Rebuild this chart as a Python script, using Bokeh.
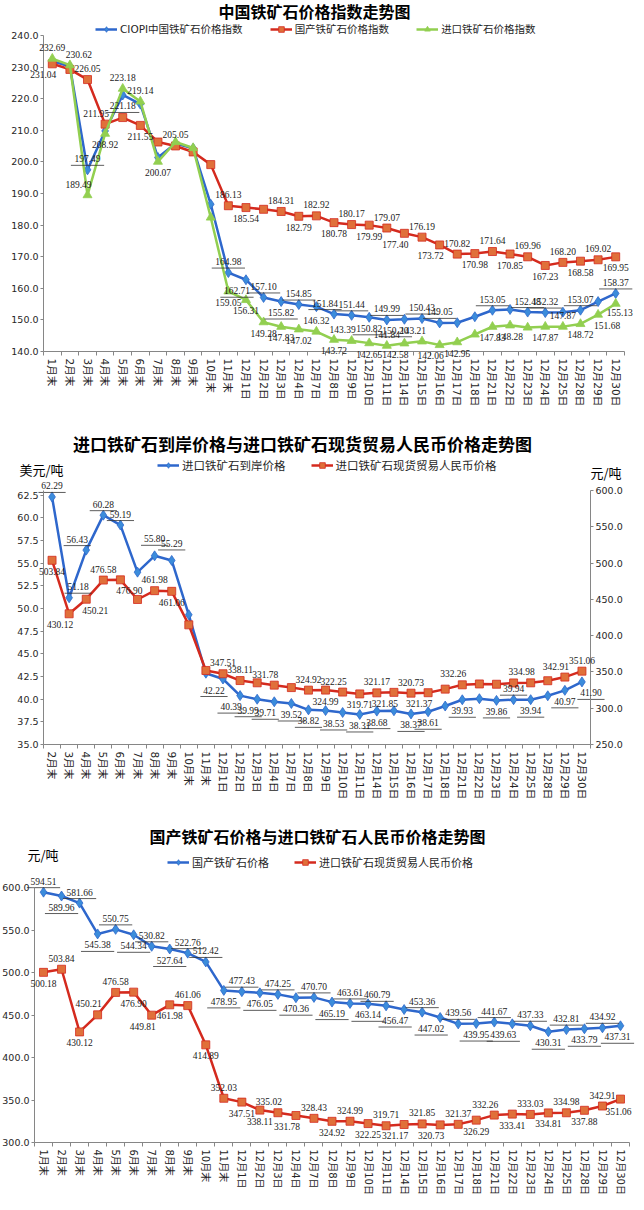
from bokeh.plotting import figure
from bokeh.models import (ColumnDataSource, FixedTicker, LinearAxis, Range1d, Label, LabelSet,
                          Legend, LegendItem, NumeralTickFormatter)
from bokeh.layouts import column
from bokeh.embed import file_html
from bokeh.resources import INLINE

# ---------------- data ----------------
MONTHS = ["1月末", "2月末", "3月末", "4月末", "5月末", "6月末", "7月末", "8月末", "9月末", "10月末", "11月末"]
DEC_DAYS = ["12月1日", "12月2日", "12月3日", "12月4日", "12月7日", "12月8日", "12月9日", "12月10日",
            "12月11日", "12月14日", "12月15日", "12月16日", "12月17日", "12月18日", "12月21日", "12月22日",
            "12月23日", "12月24日", "12月25日", "12月28日", "12月29日", "12月30日"]
CATS_1 = MONTHS + DEC_DAYS
CATS_2 = MONTHS[1:] + DEC_DAYS
CATS_3 = MONTHS + DEC_DAYS

# chart 1: indices
CIOPI = [231.9, 230.2, 197.49, 209.8, 221.18, 218.3, 201.4, 205.8, 204.3, 186.6, 164.98,
         162.71, 157.10, 155.82, 154.85, 154.2, 151.84, 151.44, 150.82, 149.99, 150.20, 150.43,
         149.05, 149.1, 151.0, 153.05, 153.3, 152.48, 152.32, 152.45, 153.07, 155.8, 158.37]
DOMESTIC_IDX = [231.04, 229.27, 226.05, 211.95, 214.03, 211.55, 206.29, 205.05, 203.15, 199.14, 186.13,
                185.54, 185.00, 184.31, 182.79, 182.92, 180.78, 180.17, 179.99, 179.07, 177.40, 176.19,
                173.72, 170.82, 170.98, 171.64, 170.85, 169.96, 167.23, 168.20, 168.58, 169.02, 169.95]
IMPORT_IDX = [232.69, 230.62, 189.49, 208.92, 223.18, 219.14, 200.07, 206.3, 204.4, 182.4, 159.05,
              156.31, 149.28, 147.83, 147.02, 146.32, 143.72, 143.39, 142.65, 141.84, 142.58, 143.21,
              142.06, 142.95, 145.4, 147.83, 148.28, 147.6, 147.87, 147.87, 148.72, 151.68, 155.13]

# chart 2: import CIF price (USD/t), from 2月末
IMPORT_USD = [62.29, 51.18, 56.43, 60.28, 59.19, 54.0, 55.80, 55.29, 49.3, 42.86,
              42.22, 40.39, 39.99, 39.71, 39.52, 38.82, 38.74, 38.53, 38.31, 38.68, 38.72,
              38.37, 38.61, 39.24, 39.93, 40.05, 39.86, 39.94, 39.94, 40.37, 40.97, 41.90]

# chart 3 (and chart 2 from 2月末): CNY prices
DOMESTIC_CNY = [594.51, 589.96, 581.66, 545.38, 550.75, 544.34, 530.82, 527.64, 522.76, 512.42, 478.95,
                477.43, 476.05, 474.25, 470.36, 470.70, 465.19, 463.61, 463.14, 460.79, 456.47, 453.36,
                447.02, 439.56, 439.95, 441.67, 439.63, 437.33, 430.31, 432.81, 433.79, 434.92, 437.31]
IMPORT_CNY = [500.18, 503.84, 430.12, 450.21, 476.58, 476.90, 449.81, 461.98, 461.06, 414.89, 352.03,
              347.51, 338.11, 335.02, 331.78, 328.43, 324.92, 324.99, 322.25, 319.71, 321.17, 321.85,
              320.73, 321.37, 326.29, 332.26, 333.41, 333.03, 334.81, 334.98, 337.88, 342.91, 351.06]
IMPORT_CNY_2 = IMPORT_CNY[1:]

TITLE_1 = "中国铁矿石价格指数走势图"
TITLE_2 = "进口铁矿石到岸价格与进口铁矿石现货贸易人民币价格走势图"
TITLE_3 = "国产铁矿石价格与进口铁矿石人民币价格走势图"
NAME_CIOPI = "CIOPI中国铁矿石价格指数"
NAME_DOM_IDX = "国产铁矿石价格指数"
NAME_IMP_IDX = "进口铁矿石价格指数"
NAME_IMP_USD = "进口铁矿石到岸价格"
NAME_IMP_CNY = "进口铁矿石现货贸易人民币价格"
NAME_DOM_CNY = "国产铁矿石价格"
UNIT_USD = "美元/吨"
UNIT_CNY = "元/吨"

# ---------------- label placement (style) ----------------
POS_CIOPI = {2: 'a', 4: 'b', 10: 'a', 11: 'bl', 12: 'a', 13: 'b', 14: 'a', 16: 'al', 17: 'a', 18: 'b',
             19: 'a', 20: 'bl', 21: 'a', 22: 'a', 25: 'a', 27: 'a', 28: 'a', 30: 'a', 32: 'a'}
POS_DOM_IDX = {0: 'bl', 2: 'a', 3: 'al', 5: 'b', 7: 'a', 10: 'a', 11: 'b', 13: 'a', 14: 'b', 15: 'a',
               16: 'b', 17: 'a', 18: 'b', 19: 'a', 20: 'bl', 21: 'a', 22: 'bl', 23: 'a', 24: 'b', 25: 'a',
               26: 'b', 27: 'a', 28: 'b', 29: 'a', 30: 'b', 31: 'a', 32: 'b'}
POS_IMP_IDX = {0: 'a', 1: 'ar', 2: 'al', 3: 'b', 4: 'a', 5: 'a', 6: 'b', 10: 'b', 11: 'b', 12: 'b',
               13: 'b', 14: 'b', 15: 'a', 16: 'b', 17: 'al', 18: 'b', 19: 'a', 20: 'bl', 21: 'al',
               22: 'bl', 23: 'b', 25: 'b', 26: 'b', 28: 'b', 29: 'a', 30: 'b', 31: 'br', 32: 'br2'}
POS_IMP_USD = {0: 'a', 1: 'ar', 2: 'al', 3: 'a', 4: 'a', 6: 'aa', 7: 'aa', 10: 'bl', 11: 'bl', 12: 'bl',
               13: 'bl', 14: 'b', 15: 'b', 17: 'bl', 18: 'b', 19: 'b', 21: 'b', 22: 'b', 24: 'b',
               26: 'b', 27: 'a', 28: 'b', 30: 'b', 31: 'br'}
POS_IMP_CNY_2 = {0: 'b', 1: 'bl', 2: 'br', 3: 'a', 4: 'br', 6: 'a', 7: 'b', 10: 'a', 11: 'a', 13: 'al',
                 15: 'a', 16: 'b', 17: 'al', 18: 'b', 19: 'a', 20: 'bl', 21: 'a', 22: 'bl', 24: 'al',
                 28: 'al', 30: 'al', 31: 'a'}
POS_DOM_CNY = {0: 'a', 1: 'b', 2: 'a', 3: 'b', 4: 'a', 5: 'b', 6: 'a', 7: 'b', 8: 'a', 9: 'a', 10: 'b',
               11: 'a', 12: 'b', 13: 'a', 14: 'b', 15: 'a', 16: 'b', 17: 'a', 18: 'b', 19: 'al', 20: 'bl',
               21: 'a', 22: 'bl', 23: 'a', 24: 'b', 25: 'a', 26: 'bl', 27: 'a', 28: 'b', 29: 'a', 30: 'b',
               31: 'a', 32: 'bs'}
POS_IMP_CNY = {0: 'b', 1: 'a', 2: 'b', 3: 'al', 4: 'a', 5: 'b', 6: 'bl', 7: 'b', 8: 'a', 9: 'b', 10: 'a',
               11: 'b', 12: 'b', 13: 'al', 14: 'bl', 15: 'a', 16: 'b', 17: 'a', 18: 'b', 19: 'a', 20: 'bl',
               21: 'a', 22: 'bl', 23: 'a', 24: 'b', 25: 'al', 26: 'b', 27: 'a', 28: 'b', 29: 'a', 30: 'b',
               31: 'a', 32: 'bs2'}

# offsets in px (x right, y up)
OFF = {"a": (0, 11), "aa": (0, 17), "b": (0, -11), "al": (-9, 11), "ar": (9, 11), "bl": (-9, -11),
       "br": (9, -11), "l": (-22, 0), "r": (20, 0), "br2": (4, -9), "bs": (-3, -11), "bs2": (-2, -12)}

CJK = "Noto Sans CJK SC"
NUM = "DejaVu Sans"
MIX = "DejaVu Sans, Noto Sans CJK SC"
AXIS_C = "#868686"
TXT_C = "#262626"
BLUE_L, BLUE_F = "#2E67CC", "#3B8CDB"
RED_L, RED_F = "#D42A1E", "#E0703A"
GREEN = "#92CF50"
LBL_FS = 9.5
PAGE_L, PAGE_R = 8, 644


class Geo:
    pass


def style_y(ya, yticks, loc, bounds):
    ya.ticker = FixedTicker(ticks=yticks)
    ya.formatter = NumeralTickFormatter(format="0.0")
    ya.fixed_location = loc
    ya.bounds = bounds
    ya.major_tick_out = 3
    ya.major_tick_in = 0
    ya.minor_tick_out = 0
    ya.minor_tick_in = 0
    ya.axis_line_color = AXIS_C
    ya.major_tick_line_color = AXIS_C
    ya.major_label_standoff = 2
    ya.major_label_text_font = NUM
    ya.major_label_text_font_size = "9.5px"
    ya.major_label_text_color = TXT_C


def make_fig(cats, ymin, ymax, ybound_top, yticks, L, R, T, B, Ftop, Fbot, xstand=3, xfs="10.5px"):
    """L,R,T,B: page pixel edges of the plotting area; Ftop,Fbot: page edges of the figure."""
    n = len(cats)
    g = Geo()
    g.n, g.Fbot = n, Fbot
    g.ppx = (R - L) / n
    g.ppy = (B - T) / (ymax - ymin)
    x0 = -0.5 - (L - PAGE_L) / g.ppx
    x1 = n - 0.5 + (PAGE_R - R) / g.ppx
    y1 = ymax + (T - Ftop) / g.ppy
    y0 = ymin - (Fbot - B) / g.ppy
    p = figure(width=PAGE_R - PAGE_L, height=Fbot - Ftop, min_border=0,
               x_range=Range1d(x0, x1), y_range=Range1d(y0, y1),
               output_backend="svg", toolbar_location=None, title=None)
    p.xgrid.visible = False
    p.ygrid.visible = False
    p.outline_line_color = None
    xa = p.xaxis[0]
    xa.ticker = FixedTicker(ticks=list(range(n)), minor_ticks=[i - 0.5 for i in range(n + 1)])
    xa.major_label_overrides = {i: c for i, c in enumerate(cats)}
    xa.major_label_orientation = "vertical"
    xa.fixed_location = ymin
    xa.bounds = (-0.5, n - 0.5)
    xa.major_tick_out = 0
    xa.major_tick_in = 0
    xa.minor_tick_out = 4
    xa.minor_tick_in = 0
    xa.minor_tick_line_color = AXIS_C
    xa.axis_line_color = AXIS_C
    xa.major_label_standoff = xstand
    xa.major_label_text_font = MIX
    xa.major_label_text_font_size = xfs
    xa.major_label_text_color = TXT_C
    style_y(p.yaxis[0], yticks, -0.5, (ymin, ybound_top))
    return p, g


def series(p, vals, lc, fc, marker, size, range_name="default"):
    xs = list(range(len(vals)))
    src = ColumnDataSource(dict(x=xs, y=vals))
    r1 = p.line("x", "y", source=src, line_color=lc, line_width=2.5, y_range_name=range_name)
    r2 = p.scatter("x", "y", source=src, marker=marker, size=size, fill_color=fc, line_color=lc,
                   line_width=0.8, y_range_name=range_name)
    return [r1, r2]


def labels(p, g, vals, pos, ppy, underline=False, range_name="default"):
    xs, ys, ts, xo, yo = [], [], [], [], []
    ux0, ux1, uy = [], [], []
    for i, code in pos.items():
        dx, dy = OFF[code]
        t = "%.2f" % vals[i]
        xs.append(i)
        ys.append(vals[i])
        ts.append(t)
        xo.append(dx)
        yo.append(dy)
        if underline:
            w = (len(t) - 1) * 0.636 * LBL_FS + 0.318 * LBL_FS
            ux0.append(i + (dx - w / 2) / g.ppx)
            ux1.append(i + (dx + w / 2) / g.ppx)
            uy.append(vals[i] + (dy - 6.5) / ppy)
    src = ColumnDataSource(dict(x=xs, y=ys, t=ts, xo=xo, yo=yo))
    ls = LabelSet(x="x", y="y", text="t", x_offset="xo", y_offset="yo", source=src,
                  text_align="center", text_baseline="middle", text_font=NUM,
                  text_font_size="%gpx" % LBL_FS, text_color="#1a1a1a", y_range_name=range_name)
    p.add_layout(ls)
    if underline:
        usrc = ColumnDataSource(dict(x0=ux0, x1=ux1, y=uy))
        p.segment(x0="x0", y0="y", x1="x1", y1="y", source=usrc, line_color="#333333",
                  line_width=0.8, y_range_name=range_name)


def text_label(p, g, px, py, text, size, bold=False, align="center"):
    p.add_layout(Label(x=px - PAGE_L, y=g.Fbot - py, x_units="screen", y_units="screen", text=text,
                       text_align=align, text_baseline="middle", text_font=CJK, text_font_size=size,
                       text_font_style="bold" if bold else "normal", text_color="#000000"))


def legend(p, g, items, px, py_center, fs, spacing):
    lg = Legend(items=[LegendItem(label=lab, renderers=rs) for lab, rs in items],
                location=(px - PAGE_L, g.Fbot - py_center - 7),
                orientation="horizontal", spacing=spacing, glyph_width=22, glyph_height=14,
                label_standoff=3, padding=0, margin=0, border_line_color=None,
                background_fill_alpha=0, label_text_font=MIX, label_text_font_size=fs,
                label_text_color=TXT_C, label_height=14)
    p.add_layout(lg)


# ---------------- chart 1 ----------------
p1, g1 = make_fig(CATS_1, 140, 240, 240, list(range(140, 241, 10)), 51, 632, 43, 359, 8, 438)
rb = series(p1, CIOPI, BLUE_L, BLUE_F, "diamond", 10)
rr = series(p1, DOMESTIC_IDX, RED_L, RED_F, "square", 8)
rg = series(p1, IMPORT_IDX, GREEN, GREEN, "triangle", 9)
labels(p1, g1, CIOPI, POS_CIOPI, g1.ppy, underline=True)
labels(p1, g1, DOMESTIC_IDX, POS_DOM_IDX, g1.ppy)
labels(p1, g1, IMPORT_IDX, POS_IMP_IDX, g1.ppy)
text_label(p1, g1, 322, 18, TITLE_1, "16px", bold=True)
legend(p1, g1, [(NAME_CIOPI, rb), (NAME_DOM_IDX, rr), (NAME_IMP_IDX, rg)], 103, 37, "10.5px", 27)

# ---------------- chart 2 ----------------
L2, R2, T2, B2, F2t, F2b = 51, 598, 498, 752, 438, 823
p2, g2 = make_fig(CATS_2, 35, 63, 63, [35 + 2.5 * k for k in range(12)], L2, R2, T2, B2, F2t, F2b)
ppy_r = (B2 - T2) / (600 - 250)
p2.extra_y_ranges = {"right": Range1d(250 - (F2b - B2) / ppy_r, 600 + (T2 - F2t) / ppy_r)}
ax_r = LinearAxis(y_range_name="right")
style_y(ax_r, list(range(250, 601, 50)), g2.n - 0.5, (250, 600))
p2.add_layout(ax_r, "right")
rb2 = series(p2, IMPORT_USD, BLUE_L, BLUE_F, "diamond", 10)
rr2 = series(p2, IMPORT_CNY_2, RED_L, RED_F, "square", 8, range_name="right")
labels(p2, g2, IMPORT_USD, POS_IMP_USD, g2.ppy, underline=True)
labels(p2, g2, IMPORT_CNY_2, POS_IMP_CNY_2, ppy_r, range_name="right")
text_label(p2, g2, 310, 451, TITLE_2, "17px", bold=True)
text_label(p2, g2, 27, 477, UNIT_USD, "13px", align="left")
text_label(p2, g2, 598, 480, UNIT_CNY, "13px", align="left")
legend(p2, g2, [(NAME_IMP_USD, rb2), (NAME_IMP_CNY, rr2)], 165, 474, "11.5px", 25)

# ---------------- chart 3 ----------------
p3, g3 = make_fig(CATS_3, 300, 600, 600, list(range(300, 601, 50)), 42, 637, 895, 1150, 823, 1202,
                  xstand=3, xfs="10px")
rb3 = series(p3, DOMESTIC_CNY, BLUE_L, BLUE_F, "diamond", 10)
rr3 = series(p3, IMPORT_CNY, RED_L, RED_F, "square", 8)
labels(p3, g3, DOMESTIC_CNY, POS_DOM_CNY, g3.ppy, underline=True)
labels(p3, g3, IMPORT_CNY, POS_IMP_CNY, g3.ppy)
text_label(p3, g3, 325, 843, TITLE_3, "16px", bold=True)
text_label(p3, g3, 35, 862, UNIT_CNY, "13px", align="left")
legend(p3, g3, [(NAME_DOM_CNY, rb3), (NAME_IMP_CNY, rr3)], 175, 871, "11px", 25)

layout = column(p1, p2, p3, spacing=0)
open("out.html", "w").write(file_html(layout, INLINE))
